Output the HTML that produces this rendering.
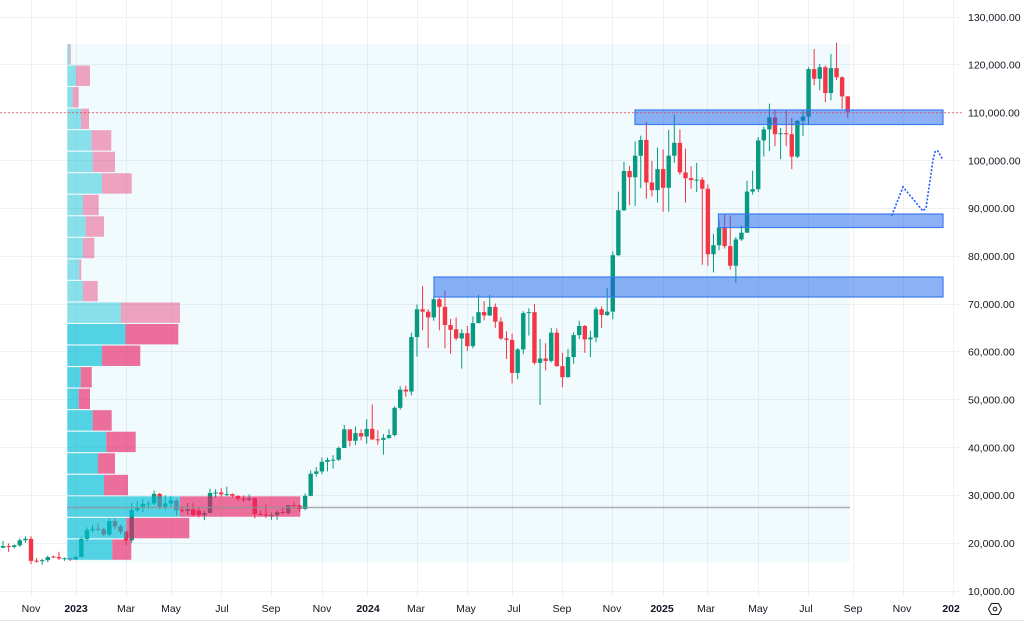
<!DOCTYPE html>
<html><head><meta charset="utf-8">
<style>
html,body{margin:0;padding:0;background:#fff;width:1024px;height:621px;overflow:hidden}
svg{display:block}
text{font-family:"Liberation Sans",sans-serif;fill:#131722}
</style></head><body>
<svg id="c" width="1024" height="621" viewBox="0 0 1024 621" xmlns="http://www.w3.org/2000/svg">
<defs><clipPath id="cl"><rect x="0" y="0" width="960" height="621"/></clipPath></defs>
<rect width="1024" height="621" fill="#fff"/>
<g stroke="#eff1f6" stroke-width="1">
<line x1="0" y1="17.5" x2="960" y2="17.5"/>
<line x1="0" y1="64.5" x2="960" y2="64.5"/>
<line x1="0" y1="112.5" x2="960" y2="112.5"/>
<line x1="0" y1="160.5" x2="960" y2="160.5"/>
<line x1="0" y1="208.5" x2="960" y2="208.5"/>
<line x1="0" y1="256.5" x2="960" y2="256.5"/>
<line x1="0" y1="304.5" x2="960" y2="304.5"/>
<line x1="0" y1="351.5" x2="960" y2="351.5"/>
<line x1="0" y1="399.5" x2="960" y2="399.5"/>
<line x1="0" y1="447.5" x2="960" y2="447.5"/>
<line x1="0" y1="495.5" x2="960" y2="495.5"/>
<line x1="0" y1="543.5" x2="960" y2="543.5"/>
<line x1="0" y1="591.5" x2="960" y2="591.5"/>
<line x1="31.5" y1="0" x2="31.5" y2="597"/>
<line x1="76.5" y1="0" x2="76.5" y2="597"/>
<line x1="126.5" y1="0" x2="126.5" y2="597"/>
<line x1="171.5" y1="0" x2="171.5" y2="597"/>
<line x1="221.5" y1="0" x2="221.5" y2="597"/>
<line x1="271.5" y1="0" x2="271.5" y2="597"/>
<line x1="322.5" y1="0" x2="322.5" y2="597"/>
<line x1="367.5" y1="0" x2="367.5" y2="597"/>
<line x1="417.5" y1="0" x2="417.5" y2="597"/>
<line x1="467.5" y1="0" x2="467.5" y2="597"/>
<line x1="512.5" y1="0" x2="512.5" y2="597"/>
<line x1="562.5" y1="0" x2="562.5" y2="597"/>
<line x1="612.5" y1="0" x2="612.5" y2="597"/>
<line x1="663.5" y1="0" x2="663.5" y2="597"/>
<line x1="707.5" y1="0" x2="707.5" y2="597"/>
<line x1="758.5" y1="0" x2="758.5" y2="597"/>
<line x1="808.5" y1="0" x2="808.5" y2="597"/>
<line x1="853.5" y1="0" x2="853.5" y2="597"/>
<line x1="903.5" y1="0" x2="903.5" y2="597"/>
<line x1="953.5" y1="0" x2="953.5" y2="597"/>
</g>
<rect x="67" y="44" width="783" height="518" fill="rgba(0,188,212,0.055)"/>
<g id="candles"></g>
<g id="vp"></g>
<line x1="67" y1="507.5" x2="850" y2="507.5" stroke="#8f939c" stroke-width="1.5" opacity="0.75"/>
<g fill="rgba(30,100,235,0.5)" stroke="#3b7cf0" stroke-width="1.2">
<rect x="635" y="110" width="308" height="14.5"/>
<rect x="718.5" y="214" width="224.5" height="13.5"/>
<rect x="434" y="277" width="509" height="20"/>
</g>
<path d="M892,215 L903,187 L923,211 L926,208 L933,160 L935,152 L937.5,150.5 L943,160" fill="none" stroke="#2962ff" stroke-width="1.8" stroke-dasharray="0.5 3.2" stroke-linecap="round"/>
<line x1="0" y1="112.8" x2="962" y2="112.8" stroke="#f23645" stroke-width="1" stroke-dasharray="2 2" opacity="0.7"/>
<g font-size="10.5">
<text x="968" y="20.8">130,000.00</text>
<text x="968" y="68.6">120,000.00</text>
<text x="968" y="116.5">110,000.00</text>
<text x="968" y="164.3">100,000.00</text>
<text x="968" y="212.1">90,000.00</text>
<text x="968" y="260">80,000.00</text>
<text x="968" y="307.8">70,000.00</text>
<text x="968" y="355.6">60,000.00</text>
<text x="968" y="403.5">50,000.00</text>
<text x="968" y="451.3">40,000.00</text>
<text x="968" y="499.1">30,000.00</text>
<text x="968" y="547">20,000.00</text>
<text x="968" y="594.8">10,000.00</text>
</g>
<g font-size="10.5" text-anchor="middle" clip-path="url(#cl)">
<text x="31" y="612">Nov</text>
<text x="76" y="612" font-weight="bold">2023</text>
<text x="126" y="612">Mar</text>
<text x="171" y="612">May</text>
<text x="222" y="612">Jul</text>
<text x="271" y="612">Sep</text>
<text x="322" y="612">Nov</text>
<text x="368" y="612" font-weight="bold">2024</text>
<text x="416" y="612">Mar</text>
<text x="466" y="612">May</text>
<text x="514" y="612">Jul</text>
<text x="562" y="612">Sep</text>
<text x="612" y="612">Nov</text>
<text x="662" y="612" font-weight="bold">2025</text>
<text x="706" y="612">Mar</text>
<text x="758" y="612">May</text>
<text x="806" y="612">Jul</text>
<text x="853" y="612">Sep</text>
<text x="902" y="612">Nov</text>
<text x="954" y="612" font-weight="bold">2026</text>
</g>
<g fill="none" stroke="#131722" stroke-width="1">
<path d="M991.5,603.5 L998.5,603.5 L1001.5,609 L998.5,614.5 L991.5,614.5 L988.5,609 Z" stroke-linejoin="round"/>
<circle cx="995" cy="609" r="1.8"/>
</g>
<line x1="0" y1="620.5" x2="1024" y2="620.5" stroke="#e0e3eb" stroke-width="1"/>
</svg>
<script>
(function(){
var D=[[19.05,20.45,18.95,19.4],[19.4,19.95,18.2,19.2],[19.2,19.7,18.9,19.55],[19.55,21.0,19.2,20.6],[20.6,21.45,20.05,20.9],
[20.9,21.45,15.6,16.3],[16.35,16.9,15.9,16.25],[16.25,16.75,15.5,16.45],[16.45,17.4,16.0,17.1],[17.2,17.4,16.9,17.1],
[17.1,18.2,16.5,16.8],[16.8,17.0,16.3,16.85],[16.85,16.95,16.3,16.6],[16.6,17.4,16.5,17.1],[17.1,21.3,17.1,20.9],
[20.9,23.3,20.4,22.7],[22.7,23.8,22.3,23.0],[23.0,24.2,22.6,22.9],[22.9,23.2,21.4,21.8],[21.8,25.2,21.5,24.6],
[24.6,25.2,22.9,23.5],[23.5,23.9,21.9,22.4],[22.4,22.6,19.6,20.6],[20.6,28.4,20.1,26.9],[26.9,28.8,26.6,27.5],
[27.5,29.2,26.5,28.2],[28.2,28.8,27.2,28.3],[28.3,31.0,28.0,30.3],[30.3,30.5,27.1,27.6],[27.6,30.0,26.9,28.3],
[28.3,29.8,27.6,28.9],[28.9,29.2,25.8,26.9],[26.9,27.7,26.4,26.75],[26.75,28.4,25.9,27.1],[27.1,28.4,25.6,25.85],
[26.8,27.4,25.4,25.85],[25.85,26.8,24.8,26.3],[26.3,31.4,26.3,30.5],[30.5,31.3,29.5,30.6],[30.6,31.5,29.7,30.2],
[30.2,31.8,29.9,30.25],[30.25,30.4,29.5,29.9],[29.9,29.95,28.9,29.3],[29.3,30.0,28.6,29.05],[29.05,30.2,28.8,29.4],
[29.4,29.6,25.2,26.1],[26.1,26.8,25.8,26.0],[26.0,28.1,25.3,25.8],[25.8,26.4,24.9,25.85],[25.85,26.9,24.9,26.5],
[26.5,27.5,26.0,26.3],[26.3,28.0,26.0,27.95],[27.95,28.6,27.2,27.9],[27.9,28.0,26.5,27.15],[27.15,30.4,26.9,29.9],
[29.9,35.2,29.8,34.5],[34.5,35.9,33.9,35.0],[35.0,37.9,34.5,37.0],[37.0,37.9,35.0,37.4],[37.4,38.4,35.6,37.45],
[37.45,40.2,37.2,39.9],[39.9,44.7,39.9,43.8],[43.8,43.8,40.2,41.4],[41.4,44.4,40.5,43.0],[43.0,43.8,41.5,42.3],
[42.3,45.9,40.8,43.9],[43.9,49.0,41.5,41.7],[41.7,43.6,40.6,41.6],[41.6,42.8,38.5,42.0],[42.0,43.8,41.8,42.6],
[42.6,48.6,42.3,48.3],[48.3,52.8,47.9,52.1],[52.1,52.9,50.6,51.7],[51.7,64.0,50.9,63.1],[63.1,69.9,59.0,68.9],
[68.9,73.8,64.5,68.4],[68.4,68.9,60.8,67.2],[67.2,71.7,66.5,71.0],[71.0,71.3,64.5,69.4],[69.4,72.8,60.7,65.6],
[65.6,66.9,59.6,64.6],[64.7,67.2,62.4,62.8],[62.8,64.7,56.5,63.9],[63.9,65.4,60.2,61.2],[61.2,67.4,60.7,66.0],
[66.0,71.9,66.0,68.3],[68.3,70.6,66.6,67.6],[67.6,71.9,67.5,69.4],[69.4,70.1,65.0,66.3],[66.3,67.2,62.5,62.8],
[62.8,64.3,58.5,62.5],[62.5,63.8,53.4,55.6],[55.6,60.8,54.3,60.5],[60.5,68.5,59.5,68.1],[68.1,69.1,63.4,68.3],
[68.3,70.0,57.3,57.7],[57.7,62.7,48.9,58.6],[58.6,61.8,56.1,58.1],[58.1,65.0,57.8,64.0],[64.0,64.9,56.9,57.0],
[57.0,59.8,52.6,54.7],[54.7,60.6,54.6,58.9],[58.9,64.1,57.5,63.5],[63.5,66.5,62.7,65.4],[65.4,65.6,59.8,62.6],
[62.6,64.4,58.9,63.0],[63.0,69.4,62.0,68.9],[68.9,69.5,65.0,67.7],[67.7,73.4,67.5,68.4],[68.4,81.0,66.8,80.2],
[80.2,93.5,80.0,89.6],[89.6,99.7,89.4,97.8],[97.8,98.9,90.7,96.5],[96.5,104.0,90.5,101.0],[101.0,105.2,94.2,104.3],
[104.3,108.1,92.0,95.4],[95.4,99.9,92.5,93.8],[93.8,102.7,91.2,98.2],[98.2,102.3,89.3,94.3],[94.3,106.4,89.3,101.0],
[101.0,109.6,99.5,103.7],[103.7,106.5,97.0,97.5],[97.5,102.5,91.2,96.3],[96.3,98.8,94.1,95.9],[95.9,99.5,93.4,96.0],
[96.0,96.5,78.2,94.1],[94.1,95.0,78.0,80.4],[80.4,84.7,76.6,82.3],[82.3,87.5,81.2,86.0],[86.0,88.8,81.6,82.1],
[82.1,88.5,77.2,78.0],[78.0,84.0,74.4,83.5],[83.5,86.4,83.2,84.9],[84.9,95.8,84.9,93.5],[93.5,97.9,92.9,94.0],
[94.0,104.9,93.4,104.2],[104.2,107.1,100.8,106.5],[106.5,111.9,102.0,109.0],[109.0,110.7,103.0,105.5],[105.5,106.8,100.3,105.7],
[105.7,110.5,103.0,105.5],[105.5,108.9,98.2,100.8],[100.8,108.5,100.5,108.3],[108.3,110.5,105.1,109.2],[109.2,119.5,107.5,119.1],
[119.1,123.3,115.7,117.1],[117.1,120.2,114.7,119.5],[119.5,119.9,112.2,114.1],[114.1,122.3,112.6,119.3],[119.3,124.6,116.8,117.4],
[117.4,117.6,110.8,113.4],[113.4,113.5,108.9,110.2]];
var ns='http://www.w3.org/2000/svg';
function Y(p){return 17+(130-p)*4.7833;}
function R(g,x,y,w,h,f){var r=document.createElementNS(ns,'rect');r.setAttribute('x',x);r.setAttribute('y',y);r.setAttribute('width',w);r.setAttribute('height',h);r.setAttribute('fill',f);g.appendChild(r);}
var g=document.getElementById('candles');
for(var k=0;k<D.length;k++){
 var i=k-5,cx=31+i*5.594,d=D[k],o=d[0],h=d[1],l=d[2],c=d[3];
 var col=c>=o?'#089981':'#f23645';
 R(g,cx-0.5,Y(h),1,Math.max(1,Y(l)-Y(h)),col);
 var t=Y(Math.max(o,c)),b=Y(Math.min(o,c));
 R(g,cx-2.2,t,4.4,Math.max(1,b-t),col);
}
var V=[[69.3,70.7],[76,90],[72.7,78.7],[81,89],[91.7,111.3],[92.7,115],[102,131.7],[83,98.7],[85.7,104],[83,94.3],[79.3,81.3],[83,97.7],[121,180],
[125.3,178.3],[102,140.3],[80.7,91.7],[78.7,90],[92.7,111.7],[106.3,135.7],[98,115],[104,128],[180,300.3],[126.3,189.3],[112.3,131.3]];
var vg=document.getElementById('vp');
for(var r=0;r<V.length;r++){
 var top=44+r*21.54,sat=r>=13;
 var cc=sat?'rgba(0,188,212,0.66)':'rgba(0,188,212,0.43)';
 var pc=sat?'rgba(233,30,99,0.64)':'rgba(233,30,99,0.40)';
 R(vg,67.3,top,V[r][0]-67.3,20.4,cc);
 R(vg,V[r][0],top,V[r][1]-V[r][0],20.4,pc);
}
})();
</script>
</body></html>
